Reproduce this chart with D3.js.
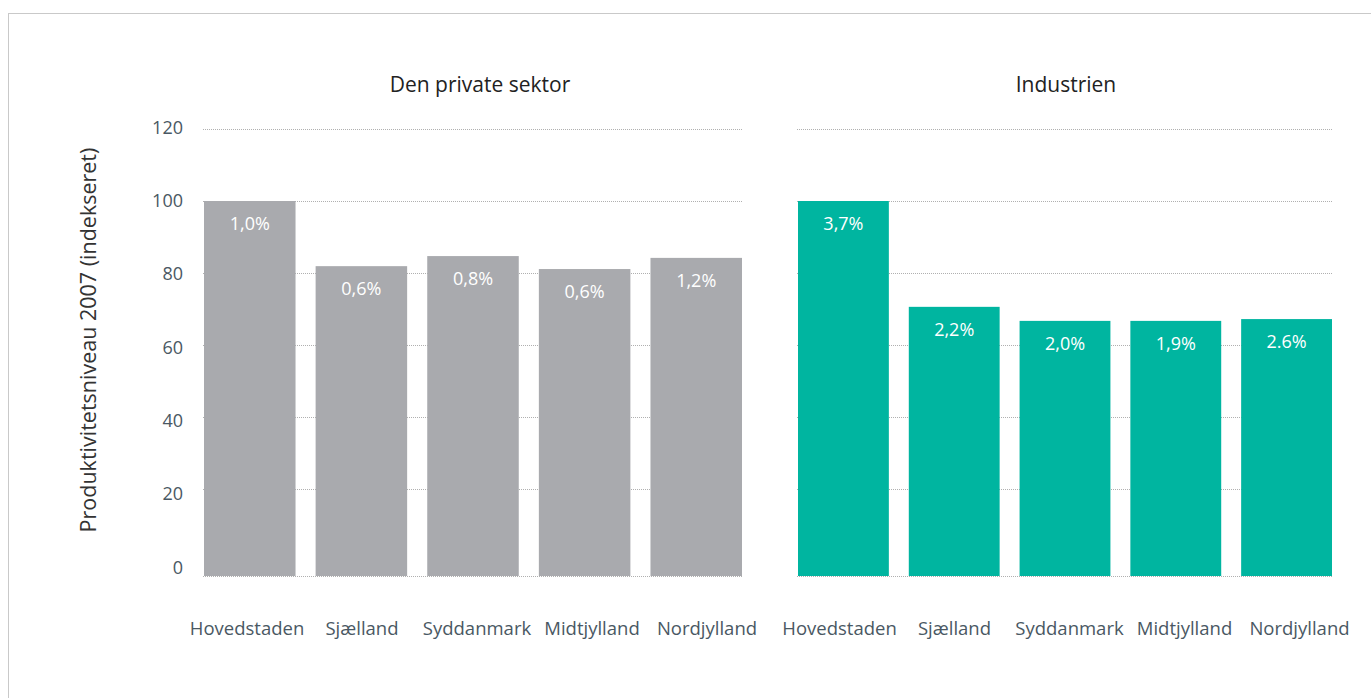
<!DOCTYPE html>
<html>
<head>
<meta charset="utf-8">
<script src="https://d3js.org/d3.v7.min.js"></script>
<style>
  body { margin: 0; background: #fff; }
  svg text { font-family: "Open Sans", sans-serif; }
</style>
</head>
<body>
<svg width="1371" height="698"></svg>
<script>
// data
var regions = ["Hovedstaden", "Sjælland", "Syddanmark", "Midtjylland", "Nordjylland"];
var privatValues = [100, 81.9, 84.7, 81.1, 84.2];
var privatGrowth = ["1,0%", "0,6%", "0,8%", "0,6%", "1,2%"];
var industriValues = [100, 70.6, 66.7, 66.7, 67.2];
var industriGrowth = ["3,7%", "2,2%", "2,0%", "1,9%", "2.6%"];
var yTicks = [0, 20, 40, 60, 80, 100, 120];
var panelTitles = ["Den private sektor", "Industrien"];
var yTitle = "Produktivitetsniveau 2007 (indekseret)";

var svg = d3.select("svg");

// frame
svg.append("rect")
  .attr("x", 8.5).attr("y", 13.5)
  .attr("width", 1400).attr("height", 720)
  .attr("fill", "none")
  .attr("stroke", "#c9c9c9");

// the grid in the original is not evenly spaced at the bottom
var y = d3.scaleLinear().domain([0, 20, 120]).range([576, 489, 129]);
var yLabel = d3.scaleLinear().domain([0, 120]).range([567.5, 127.5]);

var panels = [
  { title: panelTitles[0], values: privatValues, growth: privatGrowth, color: "#a9aaae",
    range: [204, 742], labelRange: [189.5, 764.5], titleX: 480 },
  { title: panelTitles[1], values: industriValues, growth: industriGrowth, color: "#00b5a0",
    range: [798, 1332], labelRange: [782, 1357], titleX: 1066 }
];

panels.forEach(function(p) {
  var x = d3.scaleBand().domain(regions).range(p.range).paddingInner(0.18).paddingOuter(0);
  var xl = d3.scaleBand().domain(regions).range(p.labelRange).padding(0);
  var g = svg.append("g");

  g.selectAll("line.grid")
    .data(yTicks)
    .enter()
    .append("line")
    .attr("class", "grid")
    .attr("x1", p.range[0] - 1)
    .attr("x2", p.range[1] + 1)
    .attr("y1", function(d) { return y(d) + 0.5; })
    .attr("y2", function(d) { return y(d) + 0.5; })
    .attr("stroke", "#b0b0b0")
    .attr("stroke-width", 1)
    .attr("stroke-dasharray", "1,1");

  var data = regions.map(function(r, i) {
    return { region: r, value: p.values[i], growth: p.growth[i] };
  });

  g.selectAll("rect")
    .data(data)
    .enter()
    .append("rect")
    .attr("x", function(d) { return x(d.region); })
    .attr("y", function(d) { return y(d.value); })
    .attr("width", x.bandwidth())
    .attr("height", function(d) { return y(0) - y(d.value); })
    .attr("fill", p.color);

  g.selectAll("text.val")
    .data(data)
    .enter()
    .append("text")
    .attr("class", "val")
    .attr("x", function(d) { return x(d.region) + x.bandwidth() / 2; })
    .attr("y", function(d) { return y(d.value) + 23; })
    .attr("dy", "0.35em")
    .attr("text-anchor", "middle")
    .attr("font-size", 18)
    .attr("fill", "#fff")
    .text(function(d) { return d.growth; });

  g.selectAll("text.cat")
    .data(regions)
    .enter()
    .append("text")
    .attr("class", "cat")
    .attr("x", function(d) { return xl(d) + xl.bandwidth() / 2; })
    .attr("y", 629)
    .attr("dy", "0.35em")
    .attr("text-anchor", "middle")
    .attr("font-size", 18.5)
    .attr("fill", "#4a5863")
    .text(function(d) { return d; });

  g.append("text")
    .attr("x", p.titleX)
    .attr("y", 85)
    .attr("dy", "0.35em")
    .attr("text-anchor", "middle")
    .attr("font-size", 21)
    .attr("fill", "#222")
    .text(p.title);
});

// y tick labels
svg.selectAll("text.tick")
  .data(yTicks)
  .enter()
  .append("text")
  .attr("class", "tick")
  .attr("x", 183)
  .attr("y", function(d) { return yLabel(d); })
  .attr("dy", "0.35em")
  .attr("text-anchor", "end")
  .attr("font-size", 18)
  .attr("fill", "#4a5863")
  .text(function(d) { return d; });

svg.append("text")
  .attr("transform", "translate(88,340) rotate(-90)")
  .attr("dy", "0.35em")
  .attr("text-anchor", "middle")
  .attr("font-size", 21.5)
  .attr("fill", "#333")
  .text(yTitle);
</script>
</body>
</html>
